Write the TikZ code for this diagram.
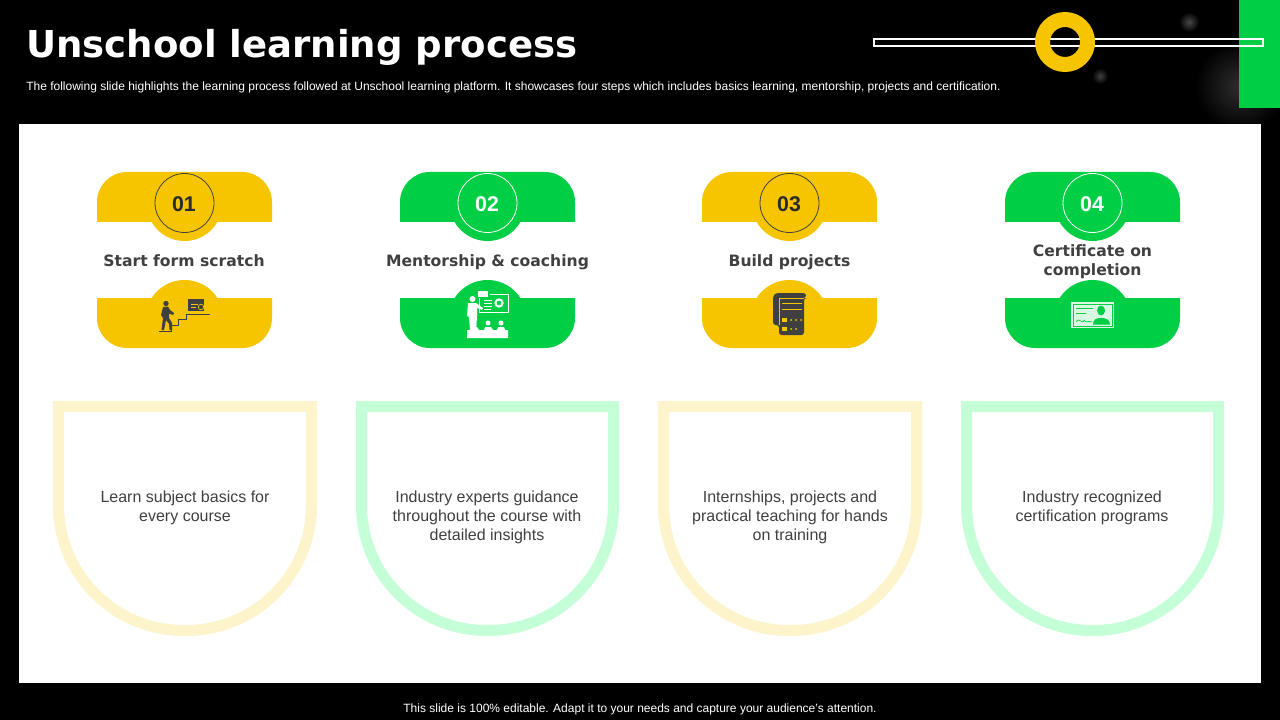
\documentclass[tikz,border=0pt]{standalone}
\usepackage{fontspec}
\setmainfont{Liberation Sans}
\newfontfamily\headfont{DejaVu Sans}
\usetikzlibrary{arrows.meta}
\definecolor{ochre}{HTML}{F6C500}
\definecolor{leaf}{HTML}{00CE45}
\definecolor{paleochre}{HTML}{FEF4CC}
\definecolor{paleleaf}{HTML}{C4FFD8}
\definecolor{ink}{HTML}{404040}
\definecolor{numink}{HTML}{2B2B2B}

\begin{document}
\begin{tikzpicture}[x=0.75pt, y=-0.75pt, line cap=butt, line join=miter,
  heading/.style={font=\headfont\bfseries\fontsize{27.8}{32}\selectfont, text=white, anchor=west, inner sep=0pt},
  smalltext/.style={font=\fontsize{9}{11}\selectfont, text=white, inner sep=0pt},
  numtext/.style={font=\bfseries\fontsize{16}{19}\selectfont, inner sep=0pt},
  steptitle/.style={font=\headfont\bfseries\fontsize{11.7}{14.25}\selectfont, text=ink, align=center, inner sep=0pt},
  bodytext/.style={font=\fontsize{12}{14.25}\selectfont, text=ink, align=center, inner sep=0pt},
  cup/.style={line width=8.25pt}]
\useasboundingbox (0,0) rectangle (1280,720);
\fill [black] (0,0) rectangle (1280,720);

% glow
\shade [inner color=white!28!black, outer color=black] (1189,22) circle (10);
\shade [inner color=white!25!black, outer color=black] (1100,76) circle (8);
\shade [inner color=white!18!black, outer color=black] (1240,86) circle (45);

% header
\fill [leaf] (1239,0) rectangle (1280,108);
\draw [white, line width=1.5pt] (874,39) rectangle (1263,46);
\draw [ochre, line width=11.25pt] (1065,42) circle (22.5);
\node [heading] (title) at (26,47) {Unschool learning process};
\node [smalltext, anchor=west] (subtitle) at (26,87.5) {The following slide highlights the learning process followed at Unschool learning platform. It showcases four steps which includes basics learning, mentorship, projects and certification.};

% panel
\fill [white] (19,124) rectangle (1261,683);
\node [smalltext] (footer) at (640,709) {This slide is 100\% editable. Adapt it to your needs and capture your audience's attention.};

% top badges
\fill [ochre] (97,222) [rounded corners=22.5pt] -- (97,172) -- (272,172) [sharp corners] -- (272,222) -- cycle;
\fill [ochre] (151.6,222) arc (150:30:38) -- cycle;
\fill [leaf] (400,222) [rounded corners=22.5pt] -- (400,172) -- (575,172) [sharp corners] -- (575,222) -- cycle;
\fill [leaf] (454.6,222) arc (150:30:38) -- cycle;
\fill [ochre] (702,222) [rounded corners=22.5pt] -- (702,172) -- (877,172) [sharp corners] -- (877,222) -- cycle;
\fill [ochre] (756.6,222) arc (150:30:38) -- cycle;
\fill [leaf] (1005,222) [rounded corners=22.5pt] -- (1005,172) -- (1180,172) [sharp corners] -- (1180,222) -- cycle;
\fill [leaf] (1059.6,222) arc (150:30:38) -- cycle;

\draw [ink, line width=0.6pt] (184.5,203) circle (29.5);
\draw [white, line width=0.6pt] (487.5,203) circle (29.5);
\draw [ink, line width=0.6pt] (789.5,203) circle (29.5);
\draw [white, line width=0.6pt] (1092.5,203) circle (29.5);
\node [numtext, text=numink] (num1) at (184,204) {01};
\node [numtext, text=white] (num2) at (487,204) {02};
\node [numtext, text=numink] (num3) at (789,204) {03};
\node [numtext, text=white] (num4) at (1092,204) {04};

% step names
\node [steptitle, anchor=base] (name1) at (184,267) {Start form scratch};
\node [steptitle, anchor=base] (name2) at (487.5,267) {Mentorship \& coaching};
\node [steptitle, anchor=base] (name3) at (789.5,267) {Build projects};
\node [steptitle] (name4) at (1092.5,261.5) {Certificate on\\completion};

% bottom badges
\fill [ochre] (97,298) [rounded corners=22.5pt] -- (97,348) -- (272,348) [sharp corners] -- (272,298) -- cycle;
\fill [ochre] (151.6,298) arc (212.5:327.5:39) -- cycle;
\fill [leaf] (400,298) [rounded corners=22.5pt] -- (400,348) -- (575,348) [sharp corners] -- (575,298) -- cycle;
\fill [leaf] (454.6,298) arc (212.5:327.5:39) -- cycle;
\fill [ochre] (702,298) [rounded corners=22.5pt] -- (702,348) -- (877,348) [sharp corners] -- (877,298) -- cycle;
\fill [ochre] (756.6,298) arc (212.5:327.5:39) -- cycle;
\fill [leaf] (1005,298) [rounded corners=22.5pt] -- (1005,348) -- (1180,348) [sharp corners] -- (1180,298) -- cycle;
\fill [leaf] (1059.6,298) arc (212.5:327.5:39) -- cycle;

% stairs icon
\fill [ink] (166,303.5) circle (2.7);
\fill [ink] (163,307) -- (168,306.5) -- (170,310) -- (174,313) -- (173,315) -- (169,313.5) -- (169,318) -- (172,323) -- (172,330) -- (169.5,330) -- (169,324) -- (166,320) -- (164,330) -- (161.5,330) -- (163,318) -- (161,315) -- cycle;
\draw [ink, line width=0.75pt] (159,331) -- (171,331) -- (171,325) -- (178,325) -- (178,319) -- (186,319) -- (186,314) -- (210,314);
\fill [ink] (188,299) rectangle (204,311);
\draw [ochre, line width=0.6pt] (191,304) -- (198,304);
\draw [ochre, line width=0.6pt] (191,307) -- (196,307);
\draw [ochre, fill=ink, line width=0.5pt] (201,307) circle (2.8);

% teacher icon
\draw [white, line width=0.6pt] (479,294) rectangle (508,312);
\fill [leaf] (477,290) rectangle (490,298);
\fill [white] (478,291) rectangle (488,297);
\draw [white, line width=1.5pt] (499,303) circle (3.6);
\draw [white, line width=0.5pt] (484,300) -- (492,300);
\draw [white, line width=0.5pt] (484,303) -- (492,303);
\draw [white, line width=0.5pt] (484,306) -- (492,306);
\draw [white, line width=0.5pt] (484,309) -- (491,309);
\fill [white] (472.5,299) circle (3);
\fill [white] (468,303) -- (476,303) -- (483,308) -- (482,310) -- (477,308) -- (477,317) -- (476,330) -- (470,330) -- (469,317) -- (467,316) -- cycle;
\fill [white] (488,323) circle (2.5);
\fill [white] (501,323) circle (2.5);
\fill [white] (474,325) circle (2.5);
\fill [white] (467,338) -- (467,330) -- (470,330) -- (472,327) -- (477,327) -- (479,330) -- (484,330) -- (485,327) -- (491,327) -- (493,330) -- (497,330) -- (498,327) -- (504,327) -- (505,330) -- (508,330) -- (508,338) -- cycle;

% scroll icon
\fill [ink, rounded corners=2pt] (773,325) -- (773,296) -- (776,293) -- (806,293) -- (806,298) -- (804,298) -- (804,335) -- (779,335) -- (779,325) -- cycle;
\draw [ochre, line width=0.5pt] (779,325) -- (779,298) -- (804,298);
\draw [ochre, line width=0.5pt] (782,303) -- (802,303);
\draw [ochre, line width=0.5pt] (782,309) -- (802,309);
\fill [ochre] (782,317.5) rectangle (787,322);
\fill [ochre] (782,326.5) rectangle (787,331);
\fill [ochre] (791,320) circle (1);
\fill [ochre] (796,320) circle (1);
\fill [ochre] (801,320) circle (1);
\fill [ochre] (791,329) circle (1);
\fill [ochre] (796,329) circle (1);

% certificate icon
\fill [white!85!leaf] (1071,302) rectangle (1114,328);
\draw [leaf, line width=0.4pt] (1073,304) rectangle (1112,326);
\draw [leaf, line width=0.5pt] (1076,308) -- (1093,308);
\draw [leaf, line width=0.5pt] (1076,313) -- (1086,313);
\draw [leaf, line width=0.5pt] (1076,322) .. controls (1080,316) and (1082,326) .. (1084,320) .. controls (1086,324) and (1088,320) .. (1092,322);
\fill [leaf] (1101,310.5) ellipse (4 and 5);
\fill [leaf] (1093,324.5) .. controls (1093,319) and (1097,318) .. (1101,318) .. controls (1105,318) and (1110,319) .. (1110,324.5) -- cycle;

% cups
\draw [paleochre, cup] (58.5,406.5) [rounded corners=94pt] -- (58.5,630.5) -- (311.5,630.5) [sharp corners] -- (311.5,406.5) -- cycle;
\draw [paleleaf, cup] (361.5,406.5) [rounded corners=94pt] -- (361.5,630.5) -- (613.5,630.5) [sharp corners] -- (613.5,406.5) -- cycle;
\draw [paleochre, cup] (663.5,406.5) [rounded corners=94pt] -- (663.5,630.5) -- (916.5,630.5) [sharp corners] -- (916.5,406.5) -- cycle;
\draw [paleleaf, cup] (966.5,406.5) [rounded corners=94pt] -- (966.5,630.5) -- (1218.5,630.5) [sharp corners] -- (1218.5,406.5) -- cycle;

\node [bodytext] (body1) at (185,508) {Learn subject basics for\\every course};
\node [bodytext] (body2) at (487,517.5) {Industry experts guidance\\throughout the course with\\detailed insights};
\node [bodytext] (body3) at (790,517.5) {Internships, projects and\\practical teaching for hands\\on training};
\node [bodytext] (body4) at (1092,508) {Industry recognized\\certification programs};
\end{tikzpicture}
\end{document}
